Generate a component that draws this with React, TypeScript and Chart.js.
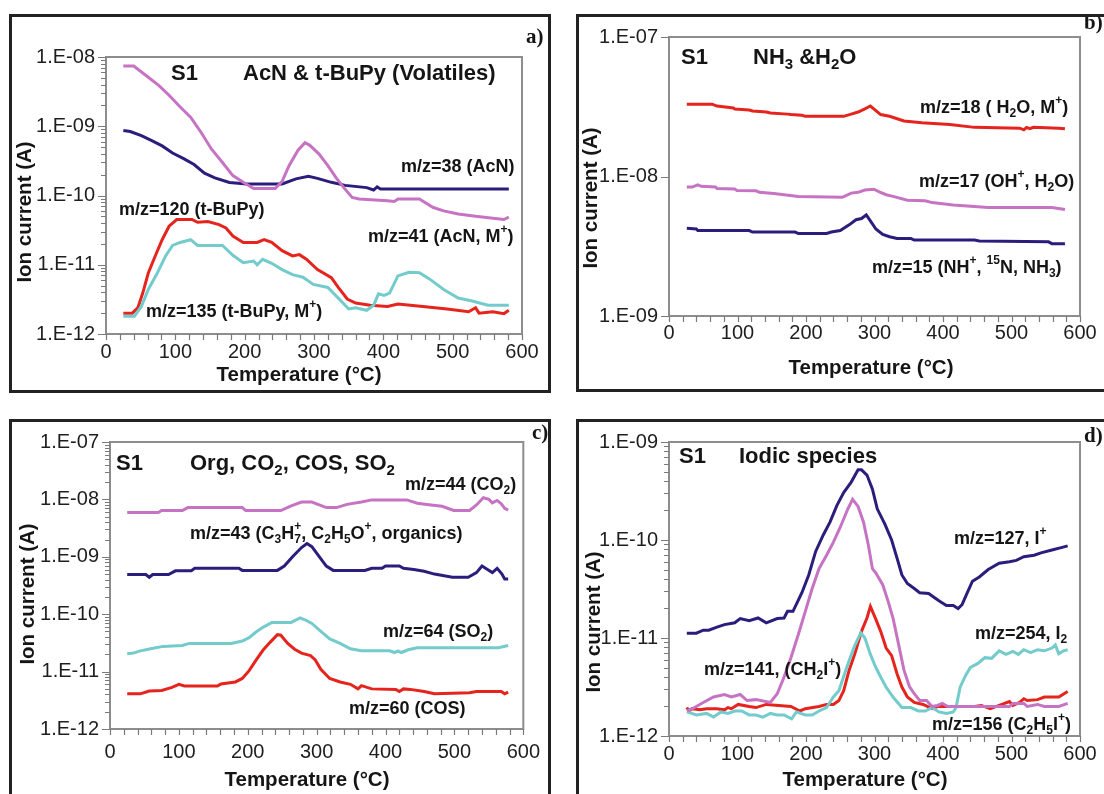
import React, { useEffect, useRef } from "react";
import { Chart, registerables } from "chart.js";
Chart.register(...registerables);

const FONT = "'Liberation Sans', Arial, Helvetica, sans-serif";
const SERIF = "'Liberation Serif', 'Times New Roman', serif";

const RED = "#e4241d";
const MAGENTA = "#c673c3";
const NAVY = "#2b1d7c";
const CYAN = "#74cbcb";

// ---------- Panel a: AcN & t-BuPy ----------
const a41T = [25,40,61,76,91,107,122,137,152,168,183,198,213,244,254,264,277,287,294,307,320,332,343,355,365,406,416,421,452,472,487,508,533,558,574,581];
const a41 = [7.4e-9,7.4e-9,5.1e-9,3.9e-9,2.8e-9,1.9e-9,1.35e-9,8.2e-10,4.7e-10,3.0e-10,1.94e-10,1.55e-10,1.26e-10,1.26e-10,1.6e-10,2.7e-10,4.5e-10,5.8e-10,5.3e-10,4.0e-10,2.7e-10,1.8e-10,1.3e-10,9.4e-11,8.9e-11,8.4e-11,8.2e-11,8.9e-11,8.9e-11,6.7e-11,6.0e-11,5.4e-11,5.0e-11,4.7e-11,4.5e-11,4.9e-11];
const a38T = [25,35,51,66,81,96,112,127,142,157,178,203,254,274,292,305,325,345,376,386,391,396,581];
const a38 = [8.7e-10,8.4e-10,7.3e-10,6.2e-10,5.2e-10,4.1e-10,3.4e-10,2.8e-10,2.1e-10,1.8e-10,1.54e-10,1.47e-10,1.47e-10,1.74e-10,1.9e-10,1.77e-10,1.55e-10,1.4e-10,1.3e-10,1.2e-10,1.33e-10,1.24e-10,1.24e-10];
const a120T = [25,38,46,53,61,71,81,91,102,124,132,147,163,173,183,198,218,228,239,254,269,279,289,305,325,335,348,360,381,406,421,457,492,523,533,538,558,574,581];
const a120 = [2.0e-12,2.0e-12,2.4e-12,3.9e-12,7.6e-12,1.34e-11,2.3e-11,3.6e-11,4.5e-11,4.5e-11,4.1e-11,4.2e-11,3.8e-11,3.4e-11,2.6e-11,2.1e-11,2.1e-11,2.3e-11,2.1e-11,1.6e-11,1.34e-11,1.4e-11,1.2e-11,8.5e-12,6.5e-12,4.7e-12,3.2e-12,2.8e-12,2.6e-12,2.5e-12,2.7e-12,2.5e-12,2.3e-12,2.1e-12,2.4e-12,2.0e-12,2.1e-12,1.97e-12,2.2e-12];
const a135T = [25,41,51,61,74,86,96,107,122,132,168,183,198,213,218,226,239,254,269,284,299,320,335,350,360,376,386,393,401,409,421,437,452,467,487,508,528,551,581];
const a135 = [1.8e-12,1.8e-12,2.5e-12,4.4e-12,7.6e-12,1.34e-11,1.9e-11,2.1e-11,2.3e-11,1.9e-11,1.9e-11,1.37e-11,1.07e-11,1.13e-11,1.0e-11,1.2e-11,1.05e-11,8.5e-12,7.2e-12,6.6e-12,5.2e-12,4.7e-12,3.3e-12,2.3e-12,2.4e-12,2.2e-12,2.6e-12,3.8e-12,3.6e-12,3.9e-12,6.9e-12,7.8e-12,7.7e-12,6.2e-12,4.4e-12,3.3e-12,3.0e-12,2.6e-12,2.6e-12];

// ---------- Panel b: NH3 & H2O ----------
const b18T = [26,63,70,94,96,117,122,142,148,173,178,194,199,255,266,276,286,294,302,309,322,343,369,410,446,512,518,522,527,532,569,578];
const b18 = [3.3e-8,3.3e-8,3.2e-8,3.1e-8,3.05e-8,3.0e-8,2.95e-8,2.9e-8,2.85e-8,2.8e-8,2.78e-8,2.75e-8,2.7e-8,2.7e-8,2.8e-8,2.9e-8,3.05e-8,3.2e-8,2.97e-8,2.78e-8,2.7e-8,2.5e-8,2.43e-8,2.36e-8,2.25e-8,2.22e-8,2.16e-8,2.25e-8,2.2e-8,2.25e-8,2.22e-8,2.2e-8];
const b17T = [26,34,42,47,68,70,96,99,127,132,153,189,253,266,276,286,299,307,317,327,348,374,384,415,466,559,578];
const b17 = [8.4e-9,8.4e-9,8.7e-9,8.5e-9,8.4e-9,8.2e-9,8.15e-9,7.95e-9,7.9e-9,7.7e-9,7.55e-9,7.2e-9,7.1e-9,7.6e-9,7.7e-9,8.0e-9,8.1e-9,7.75e-9,7.4e-9,7.2e-9,6.75e-9,6.7e-9,6.5e-9,6.25e-9,6.0e-9,6.0e-9,5.8e-9];
const b15T = [26,40,42,117,122,184,189,230,237,250,263,273,281,288,294,302,312,322,333,353,358,446,453,554,559,578];
const b15 = [4.26e-9,4.2e-9,4.1e-9,4.1e-9,4.0e-9,4.0e-9,3.9e-9,3.9e-9,4.0e-9,4.1e-9,4.5e-9,4.9e-9,5.0e-9,5.3e-9,4.8e-9,4.2e-9,3.85e-9,3.7e-9,3.6e-9,3.6e-9,3.5e-9,3.5e-9,3.45e-9,3.4e-9,3.3e-9,3.3e-9];

// ---------- Panel c: Org, CO2, COS, SO2 ----------
const c44T = [25,70,75,105,113,192,197,248,263,278,293,314,329,344,365,380,431,446,466,482,499,522,532,542,550,555,562,568,573,578];
const c44 = [5.9e-9,5.9e-9,6.4e-9,6.4e-9,7.2e-9,7.2e-9,6.4e-9,6.4e-9,7.7e-9,9.0e-9,9.0e-9,7.2e-9,7.2e-9,8.2e-9,9.0e-9,9.8e-9,9.8e-9,8.6e-9,8.0e-9,7.6e-9,6.4e-9,6.4e-9,8.0e-9,1.07e-8,1.0e-8,8.7e-9,9.6e-9,8.4e-9,7.0e-9,6.5e-9];
const c43T = [25,52,57,62,85,95,118,123,187,192,243,253,265,278,286,293,304,314,324,370,380,395,400,420,426,441,456,471,497,520,532,540,548,555,562,569,573,578];
const c43 = [4.9e-10,4.9e-10,4.4e-10,4.9e-10,4.9e-10,5.7e-10,5.7e-10,6.3e-10,6.3e-10,5.8e-10,5.8e-10,6.9e-10,1.0e-9,1.45e-9,1.7e-9,1.5e-9,1.0e-9,6.9e-10,5.8e-10,5.8e-10,6.3e-10,6.3e-10,6.9e-10,6.9e-10,6.3e-10,6.0e-10,5.6e-10,5.0e-10,4.4e-10,4.4e-10,5.3e-10,6.9e-10,6.0e-10,5.3e-10,6.3e-10,5.0e-10,4.1e-10,4.1e-10];
const c64T = [25,34,44,59,77,105,115,176,192,202,212,222,235,263,276,283,293,304,319,334,349,365,406,413,418,423,433,446,564,578];
const c64 = [2.05e-11,2.1e-11,2.3e-11,2.5e-11,2.75e-11,2.85e-11,3.1e-11,3.1e-11,3.4e-11,3.9e-11,4.9e-11,5.9e-11,7.2e-11,7.2e-11,8.6e-11,8.0e-11,6.9e-11,5.3e-11,3.7e-11,3.1e-11,2.5e-11,2.3e-11,2.3e-11,2.15e-11,2.3e-11,2.15e-11,2.4e-11,2.6e-11,2.6e-11,2.85e-11];
const c60T = [25,44,57,75,90,100,108,156,161,182,192,202,212,222,232,243,248,258,268,278,291,298,306,319,334,349,360,365,380,415,420,426,436,456,471,522,532,568,573,578];
const c60 = [4.1e-12,4.1e-12,4.6e-12,4.7e-12,5.3e-12,6.0e-12,5.6e-12,5.6e-12,6.1e-12,6.6e-12,7.6e-12,1.04e-11,1.58e-11,2.35e-11,3.2e-11,4.4e-11,4.3e-11,3.1e-11,2.45e-11,2.1e-11,1.9e-11,1.6e-11,1.1e-11,7.6e-12,6.6e-12,6.0e-12,5.0e-12,5.7e-12,5.0e-12,4.9e-12,4.5e-12,5.0e-12,4.9e-12,4.5e-12,4.1e-12,4.3e-12,4.5e-12,4.5e-12,4.1e-12,4.4e-12];

// ---------- Panel d: Iodic species ----------
const d127T = [26,40,50,58,70,81,96,104,117,130,142,158,168,173,181,194,204,214,225,235,245,255,266,276,281,289,297,304,315,325,333,340,348,358,366,379,394,405,415,422,428,435,443,453,466,482,497,507,518,533,543,559,574,582];
const d127 = [1.12e-11,1.12e-11,1.2e-11,1.2e-11,1.29e-11,1.37e-11,1.43e-11,1.58e-11,1.5e-11,1.6e-11,1.43e-11,1.58e-11,1.6e-11,1.87e-11,1.87e-11,2.9e-11,4.4e-11,7.6e-11,1.12e-10,1.52e-10,2.24e-10,3.05e-10,3.9e-10,5.2e-10,5.2e-10,4.6e-10,3.3e-10,2.08e-10,1.46e-10,1.0e-10,6.5e-11,4.4e-11,3.6e-11,3.2e-11,2.9e-11,2.85e-11,2.4e-11,2.15e-11,2.15e-11,2.0e-11,2.2e-11,2.85e-11,3.8e-11,4.2e-11,5.0e-11,5.8e-11,6.0e-11,6.2e-11,6.75e-11,7.0e-11,7.4e-11,7.9e-11,8.4e-11,8.7e-11];
const d141T = [26,34,50,65,81,91,104,114,127,148,158,168,178,189,199,209,219,230,240,250,261,268,276,284,291,297,302,312,320,327,335,343,351,358,366,376,384,392,399,407,497,502,518,523,538,548,569,582];
const d141 = [1.8e-12,1.9e-12,2.2e-12,2.5e-12,2.65e-12,2.5e-12,2.65e-12,2.3e-12,2.35e-12,2.2e-12,2.7e-12,4.0e-12,6.3e-12,1.1e-11,1.87e-11,3.2e-11,5.1e-11,7.0e-11,9.5e-11,1.35e-10,2.07e-10,2.6e-10,2.2e-10,1.52e-10,8.9e-11,5.1e-11,4.6e-11,3.5e-11,2.35e-11,1.6e-11,8.7e-12,4.7e-12,3.2e-12,2.7e-12,2.3e-12,2.3e-12,2.0e-12,2.05e-12,2.15e-12,2.0e-12,2.0e-12,2.15e-12,2.15e-12,2.0e-12,2.1e-12,2.0e-12,2.0e-12,2.15e-12];
const d156T = [26,29,34,45,55,70,81,86,91,101,117,127,142,178,191,199,219,230,240,248,255,263,271,281,289,294,302,309,317,325,333,340,348,358,371,384,392,446,456,469,482,497,502,512,518,523,538,548,569,582];
const d156 = [1.95e-12,1.8e-12,1.9e-12,1.85e-12,1.9e-12,1.9e-12,1.85e-12,1.95e-12,1.9e-12,2.1e-12,2.0e-12,1.95e-12,2.1e-12,2.0e-12,1.8e-12,1.9e-12,2.0e-12,2.1e-12,2.1e-12,2.3e-12,2.9e-12,4.7e-12,6.8e-12,1.17e-11,1.6e-11,2.1e-11,1.55e-11,1.17e-11,7.9e-12,6.6e-12,4.3e-12,3.16e-12,2.5e-12,2.2e-12,2.1e-12,1.9e-12,2.0e-12,2.0e-12,2.05e-12,1.9e-12,2.05e-12,2.25e-12,2.05e-12,2.2e-12,2.4e-12,2.3e-12,2.35e-12,2.5e-12,2.5e-12,2.85e-12];
const d254T = [26,40,55,65,76,86,96,106,117,127,137,148,158,168,179,186,199,209,219,230,240,248,255,263,271,280,286,294,302,309,317,327,340,353,364,374,384,394,405,415,419,425,433,440,451,461,471,482,492,502,510,518,528,538,548,559,564,569,576,582];
const d254 = [1.76e-12,1.64e-12,1.7e-12,1.56e-12,1.76e-12,1.7e-12,1.8e-12,1.8e-12,1.64e-12,1.64e-12,1.56e-12,1.7e-12,1.64e-12,1.64e-12,1.5e-12,1.76e-12,1.64e-12,1.64e-12,1.8e-12,1.95e-12,2.5e-12,2.9e-12,4.05e-12,5.9e-12,8.3e-12,1.13e-11,1.0e-11,6.8e-12,5.0e-12,4.0e-12,3.15e-12,2.5e-12,1.95e-12,1.95e-12,1.8e-12,1.8e-12,1.95e-12,1.76e-12,1.7e-12,1.76e-12,1.95e-12,3.15e-12,4.15e-12,5.0e-12,5.5e-12,6.3e-12,6.2e-12,7.4e-12,6.8e-12,7.3e-12,6.8e-12,7.6e-12,7.1e-12,7.6e-12,7.4e-12,7.9e-12,8.5e-12,6.9e-12,7.4e-12,7.6e-12];

// ---------- ticks ----------
const X_LABEL_TICKS = [0, 100, 200, 300, 400, 500, 600];
const X_MINOR_TICKS = [0,20,40,60,80,100,120,140,160,180,200,220,240,260,280,300,320,340,360,380,400,420,440,460,480,500,520,540,560,580,600];
const DECADES_A = [1e-12, 1e-11, 1e-10, 1e-9, 1e-8];
const DECADES_B = [1e-9, 1e-8, 1e-7];
const DECADES_C = [1e-12, 1e-11, 1e-10, 1e-9, 1e-8, 1e-7];
const DECADES_D = [1e-12, 1e-11, 1e-10, 1e-9];
const MINOR_MULT = [2, 3, 4, 5, 6, 7, 8, 9];

const X_TITLE = "Temperature (°C)";
const Y_TITLE = "Ion current (A)";

type Series = { t: number[]; v: number[]; color: string };
type Txt = { s: string; x: number; y: number; size: number; serif?: boolean };
type Rect = { l: number; t: number; r: number; b: number };
type Panel = {
  box: Rect;
  plot: Rect;
  decades: number[];
  minor: boolean;
  xLabelOffset: number;
  series: Series[];
  texts: Txt[];
  xTitle: [number, number];
  yTitle: [number, number];
};

const PANELS: Panel[] = [
  {
    box: { l: 9, t: 14, r: 551, b: 393 },
    plot: { l: 106, t: 57, r: 522, b: 334 },
    decades: DECADES_A,
    minor: true,
    xLabelOffset: 18,
    series: [
      { t: a41T, v: a41, color: MAGENTA },
      { t: a38T, v: a38, color: NAVY },
      { t: a135T, v: a135, color: CYAN },
      { t: a120T, v: a120, color: RED },
    ],
    texts: [
      { s: "S1", x: 171, y: 74, size: 22 },
      { s: "AcN & t-BuPy (Volatiles)", x: 243, y: 74, size: 22 },
      { s: "m/z=38 (AcN)", x: 401, y: 167, size: 18 },
      { s: "m/z=120 (t-BuPy)", x: 119, y: 210, size: 18 },
      { s: "m/z=41 (AcN, M^{+})", x: 368, y: 237, size: 18 },
      { s: "m/z=135 (t-BuPy, M^{+})", x: 146, y: 312, size: 18 },
      { s: "a)", x: 526, y: 38, size: 21, serif: true },
    ],
    xTitle: [299, 375],
    yTitle: [25, 212],
  },
  {
    box: { l: 576, t: 14, r: 1112, b: 392 },
    plot: { l: 669, t: 34, r: 1080, b: 316 },
    decades: DECADES_B,
    minor: false,
    xLabelOffset: 17,
    series: [
      { t: b18T, v: b18, color: RED },
      { t: b17T, v: b17, color: MAGENTA },
      { t: b15T, v: b15, color: NAVY },
    ],
    texts: [
      { s: "S1", x: 681, y: 58, size: 22 },
      { s: "NH_{3} &H_{2}O", x: 753, y: 58, size: 22 },
      { s: "m/z=18 ( H_{2}O, M^{+})", x: 920, y: 108, size: 18 },
      { s: "m/z=17 (OH^{+}, H_{2}O)", x: 919, y: 182, size: 18 },
      { s: "m/z=15 (NH^{+}, ^{15}N, NH_{3})", x: 872, y: 268, size: 18 },
      { s: "b)", x: 1084, y: 24, size: 21, serif: true },
    ],
    xTitle: [871, 368],
    yTitle: [591, 198],
  },
  {
    box: { l: 9, t: 419, r: 551, b: 830 },
    plot: { l: 110, t: 442, r: 525, b: 729 },
    decades: DECADES_C,
    minor: true,
    xLabelOffset: 23,
    series: [
      { t: c44T, v: c44, color: MAGENTA },
      { t: c43T, v: c43, color: NAVY },
      { t: c64T, v: c64, color: CYAN },
      { t: c60T, v: c60, color: RED },
    ],
    texts: [
      { s: "S1", x: 116, y: 464, size: 22 },
      { s: "Org, CO_{2}, COS, SO_{2}", x: 190, y: 464, size: 22 },
      { s: "m/z=44 (CO_{2})", x: 405, y: 485, size: 18 },
      { s: "m/z=43 (C_{3}H_{7}^{+}, C_{2}H_{5}O^{+}, organics)", x: 190, y: 534, size: 18 },
      { s: "m/z=64 (SO_{2})", x: 383, y: 632, size: 18 },
      { s: "m/z=60 (COS)", x: 349, y: 709, size: 18 },
      { s: "c)", x: 532, y: 434, size: 21, serif: true },
    ],
    xTitle: [307, 780],
    yTitle: [28, 594],
  },
  {
    box: { l: 576, t: 419, r: 1112, b: 830 },
    plot: { l: 669, t: 439, r: 1080, b: 736 },
    decades: DECADES_D,
    minor: true,
    xLabelOffset: 18,
    series: [
      { t: d127T, v: d127, color: NAVY },
      { t: d141T, v: d141, color: MAGENTA },
      { t: d254T, v: d254, color: CYAN },
      { t: d156T, v: d156, color: RED },
    ],
    texts: [
      { s: "S1", x: 679, y: 457, size: 22 },
      { s: "Iodic species", x: 739, y: 457, size: 22 },
      { s: "m/z=127, I^{+}", x: 954, y: 539, size: 18 },
      { s: "m/z=254, I_{2}", x: 975, y: 634, size: 18 },
      { s: "m/z=141, (CH_{2}I^{+})", x: 704, y: 670, size: 18 },
      { s: "m/z=156 (C_{2}H_{5}I^{+})", x: 932, y: 725, size: 18 },
      { s: "d)", x: 1084, y: 437, size: 21, serif: true },
    ],
    xTitle: [865, 780],
    yTitle: [594, 622],
  },
];

const PAGE_W = 1104;
const PAGE_H = 794;

type Seg = { t: string; k: "n" | "sup" | "sub" };

function parseRich(str: string): Seg[] {
  const segs: Seg[] = [];
  let buf = "";
  let i = 0;
  while (i < str.length) {
    const c = str[i];
    if ((c === "^" || c === "_") && str[i + 1] === "{") {
      if (buf) { segs.push({ t: buf, k: "n" }); buf = ""; }
      const end = str.indexOf("}", i);
      segs.push({ t: str.slice(i + 2, end), k: c === "^" ? "sup" : "sub" });
      i = end + 1;
    } else {
      buf += c;
      i++;
    }
  }
  if (buf) segs.push({ t: buf, k: "n" });
  return segs;
}

function drawRich(
  ctx: CanvasRenderingContext2D,
  str: string,
  x: number,
  y: number,
  size: number,
  bold: boolean,
  family: string,
  align: "left" | "center"
) {
  const segs = parseRich(str);
  const w8 = bold ? "bold " : "";
  const fontN = `${w8}${size}px ${family}`;
  const fontS = `${w8}${Math.round(size * 0.68)}px ${family}`;
  const items: { t: string; k: string; x: number; w: number }[] = [];
  let total = 0;
  let prev: { t: string; k: string; x: number; w: number } | null = null;
  for (const s of segs) {
    ctx.font = s.k === "n" ? fontN : fontS;
    const w = ctx.measureText(s.t).width;
    if (s.k === "sup" && prev && prev.k === "sub") {
      const it = { t: s.t, k: s.k, x: prev.x, w };
      items.push(it);
      total += Math.max(0, w - prev.w);
      prev = it;
    } else {
      const it = { t: s.t, k: s.k, x: total, w };
      items.push(it);
      total += w;
      prev = it;
    }
  }
  const x0 = align === "center" ? x - total / 2 : x;
  ctx.textAlign = "left";
  ctx.textBaseline = "middle";
  for (const it of items) {
    ctx.font = it.k === "n" ? fontN : fontS;
    const dy = it.k === "sup" ? -size * 0.4 : it.k === "sub" ? size * 0.3 : 0;
    ctx.fillText(it.t, x0 + it.x, y + dy);
  }
}

function decadeLabel(v: number): string {
  const e = Math.round(Math.log10(v));
  const n = Math.abs(e);
  return `1.E${e < 0 ? "-" : "+"}${n < 10 ? "0" + n : String(n)}`;
}

function PanelChart({ p }: { p: Panel }) {
  const ref = useRef<HTMLCanvasElement>(null);
  const cx = p.box.l;
  const cy = p.box.t;
  const cw = Math.min(p.box.r, PAGE_W) - cx;
  const ch = Math.min(p.box.b, PAGE_H) - cy;

  useEffect(() => {
    const canvas = ref.current;
    if (!canvas) return;
    const yMin = p.decades[0];
    const yMax = p.decades[p.decades.length - 1];
    const decor = {
      id: "decor",
      beforeDatasetsDraw(chart: any) {
        const ctx: CanvasRenderingContext2D = chart.ctx;
        const a = chart.chartArea;
        const xs = chart.scales.x;
        const ys = chart.scales.y;
        ctx.save();
        ctx.strokeStyle = "#8d8d8d";
        ctx.lineWidth = 2;
        ctx.strokeRect(a.left, a.top, a.right - a.left, a.bottom - a.top);
        ctx.lineWidth = 1.2;
        ctx.strokeStyle = "#7a7a7a";
        ctx.beginPath();
        for (const t of X_MINOR_TICKS) {
          const px = Math.round(xs.getPixelForValue(t)) + 0.5;
          ctx.moveTo(px, a.bottom);
          ctx.lineTo(px, a.bottom + 6);
        }
        for (const d of p.decades) {
          const py = Math.round(ys.getPixelForValue(d)) + 0.5;
          ctx.moveTo(a.left - 8, py);
          ctx.lineTo(a.left, py);
          if (p.minor && d < yMax) {
            for (const m of MINOR_MULT) {
              const my = Math.round(ys.getPixelForValue(d * m)) + 0.5;
              ctx.moveTo(a.left - 5, my);
              ctx.lineTo(a.left, my);
            }
          }
        }
        ctx.stroke();
        ctx.restore();
      },
      afterDraw(chart: any) {
        const ctx: CanvasRenderingContext2D = chart.ctx;
        ctx.save();
        ctx.fillStyle = "#151515";
        for (const t of p.texts) {
          drawRich(ctx, t.s, t.x - cx, t.y - cy, t.size, true, t.serif ? SERIF : FONT, "left");
        }
        drawRich(ctx, X_TITLE, p.xTitle[0] - cx, p.xTitle[1] - cy, 20.5, true, FONT, "center");
        ctx.translate(p.yTitle[0] - cx, p.yTitle[1] - cy);
        ctx.rotate(-Math.PI / 2);
        drawRich(ctx, Y_TITLE, 0, 0, 20.5, true, FONT, "center");
        ctx.restore();
      },
    };

    const chart = new Chart(canvas, {
      type: "line",
      data: {
        datasets: p.series.map((s) => ({
          data: s.t.map((t, i) => ({ x: t, y: s.v[i] })),
          borderColor: s.color,
          backgroundColor: s.color,
          borderWidth: 3,
          pointRadius: 0,
          tension: 0,
          fill: false,
        })),
      },
      options: {
        animation: false,
        responsive: false,
        maintainAspectRatio: false,
        events: [],
        layout: {
          padding: { left: 0, bottom: 0, top: p.plot.t - cy, right: cx + cw - p.plot.r },
        },
        plugins: { legend: { display: false }, tooltip: { enabled: false } },
        scales: {
          x: {
            type: "linear",
            min: 0,
            max: 600,
            border: { display: false },
            grid: { display: true, drawOnChartArea: false, drawTicks: false, color: "rgba(0,0,0,0)" },
            afterBuildTicks: (s: any) => {
              s.ticks = X_LABEL_TICKS.map((v) => ({ value: v }));
            },
            afterFit: (s: any) => {
              s.height = cy + ch - p.plot.b;
            },
            ticks: {
              autoSkip: false,
              maxRotation: 0,
              padding: p.xLabelOffset - 12,
              color: "#1e1e1e",
              font: { family: FONT, size: 20 },
              callback: (v: any) => String(v),
            },
          },
          y: {
            type: "logarithmic",
            min: yMin,
            max: yMax,
            border: { display: false },
            grid: { display: true, drawOnChartArea: false, drawTicks: false, color: "rgba(0,0,0,0)" },
            afterBuildTicks: (s: any) => {
              s.ticks = p.decades.map((v) => ({ value: v, major: true }));
            },
            afterFit: (s: any) => {
              s.width = p.plot.l - cx;
            },
            ticks: {
              autoSkip: false,
              padding: 11,
              color: "#1e1e1e",
              font: { family: FONT, size: 20 },
              callback: (v: any) => decadeLabel(Number(v)),
            },
          },
        },
      },
      plugins: [decor],
    } as any);
    return () => chart.destroy();
  }, []);

  return (
    <>
      <canvas
        ref={ref}
        width={cw}
        height={ch}
        style={{ position: "absolute", left: cx, top: cy, width: cw, height: ch }}
      />
      <div
        style={{
          position: "absolute",
          left: p.box.l,
          top: p.box.t,
          width: p.box.r - p.box.l,
          height: p.box.b - p.box.t,
          border: "3px solid #222",
          boxSizing: "border-box",
          pointerEvents: "none",
        }}
      />
    </>
  );
}

export default function App() {
  return (
    <div
      style={{
        position: "fixed",
        left: 0,
        top: 0,
        width: PAGE_W,
        height: PAGE_H,
        overflow: "hidden",
        background: "#ffffff",
      }}
    >
      {PANELS.map((p, i) => (
        <PanelChart key={i} p={p} />
      ))}
    </div>
  );
}
